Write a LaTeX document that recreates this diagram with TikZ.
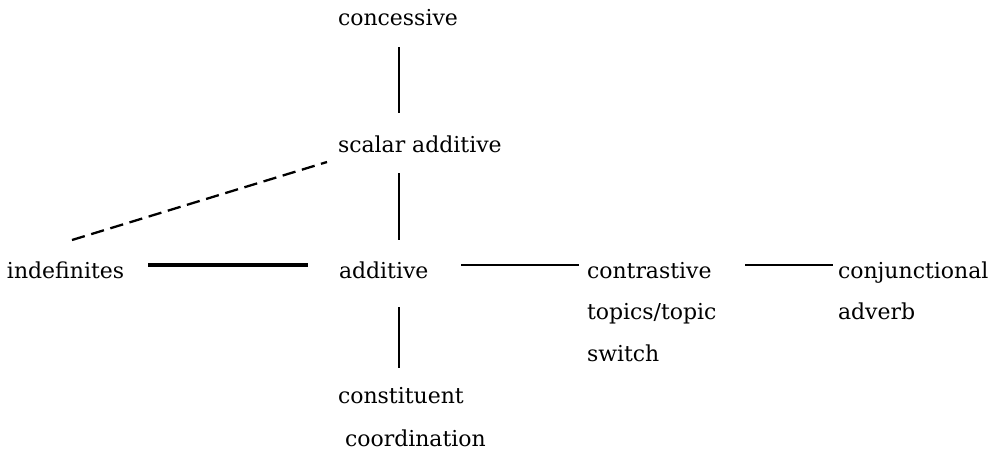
\documentclass[tikz,border=0pt]{standalone}
\usepackage{fontspec}
\setmainfont{DejaVu Serif}
\usetikzlibrary{calc}
\newcommand{\stacklines}[2][23.8pt]{\vtop{\baselineskip=#1\relax #2}}
\begin{document}
\begin{tikzpicture}[x=0.02cm,y=-0.02cm,
  lbl/.style={anchor=base west,inner sep=0pt,outer sep=0pt,font=\fontsize{12.5pt}{15pt}\selectfont},
  thin/.style={line width=1.2pt},
  mid/.style={line width=1.5pt},
  thick/.style={line width=2.3pt},
  dashline/.style={line width=1.3pt,dash pattern=on 7.6pt off 3.8pt}]
\useasboundingbox (0,0) rectangle (1000,453);
\coordinate (axis) at (399,0);
\node[lbl] (conc) at (338,25) {concessive};
\node[lbl] (scal) at (338,152) {scalar additive};
\node[lbl] (indef) at (7,278) {indefinites};
\node[lbl] (add) at (339,278) {additive};
\node[lbl] (contr) at (587,278) {\stacklines{\hbox{contrastive}\hbox{topics/topic}\hbox{switch}}};
\node[lbl] (conj) at (838,278) {\stacklines{\hbox{conjunctional}\hbox{adverb}}};
\node[lbl] (cons) at (338,403) {\stacklines[25pt]{\hbox{constituent}\hbox{\hspace{4pt}coordination}}};
% connectors
\draw[thin] ($(conc.base -| axis)+(0,22)$) -- ($(scal.base -| axis)+(0,-39)$);
\draw[thin] ($(scal.base -| axis)+(0,21)$) -- ($(add.base -| axis)+(0,-38)$);
\draw[thin] ($(add.base -| axis)+(0,29)$) -- ($(cons.base -| axis)+(0,-35)$);
\draw[thick] ($(indef.base west)+(141,-13)$) -- ($(add.base west)+(-31,-13)$);
\draw[mid] ($(add.base west)+(122,-13)$) -- ($(contr.base west)+(-8,-13)$);
\draw[mid] ($(conj.base west)+(-93,-13)$) -- ($(conj.base west)+(-5,-13)$);
\draw[dashline] ($(indef.base west)+(65,-38)$) -- ($(scal.base west)+(-11,10)$);
\end{tikzpicture}
\end{document}
